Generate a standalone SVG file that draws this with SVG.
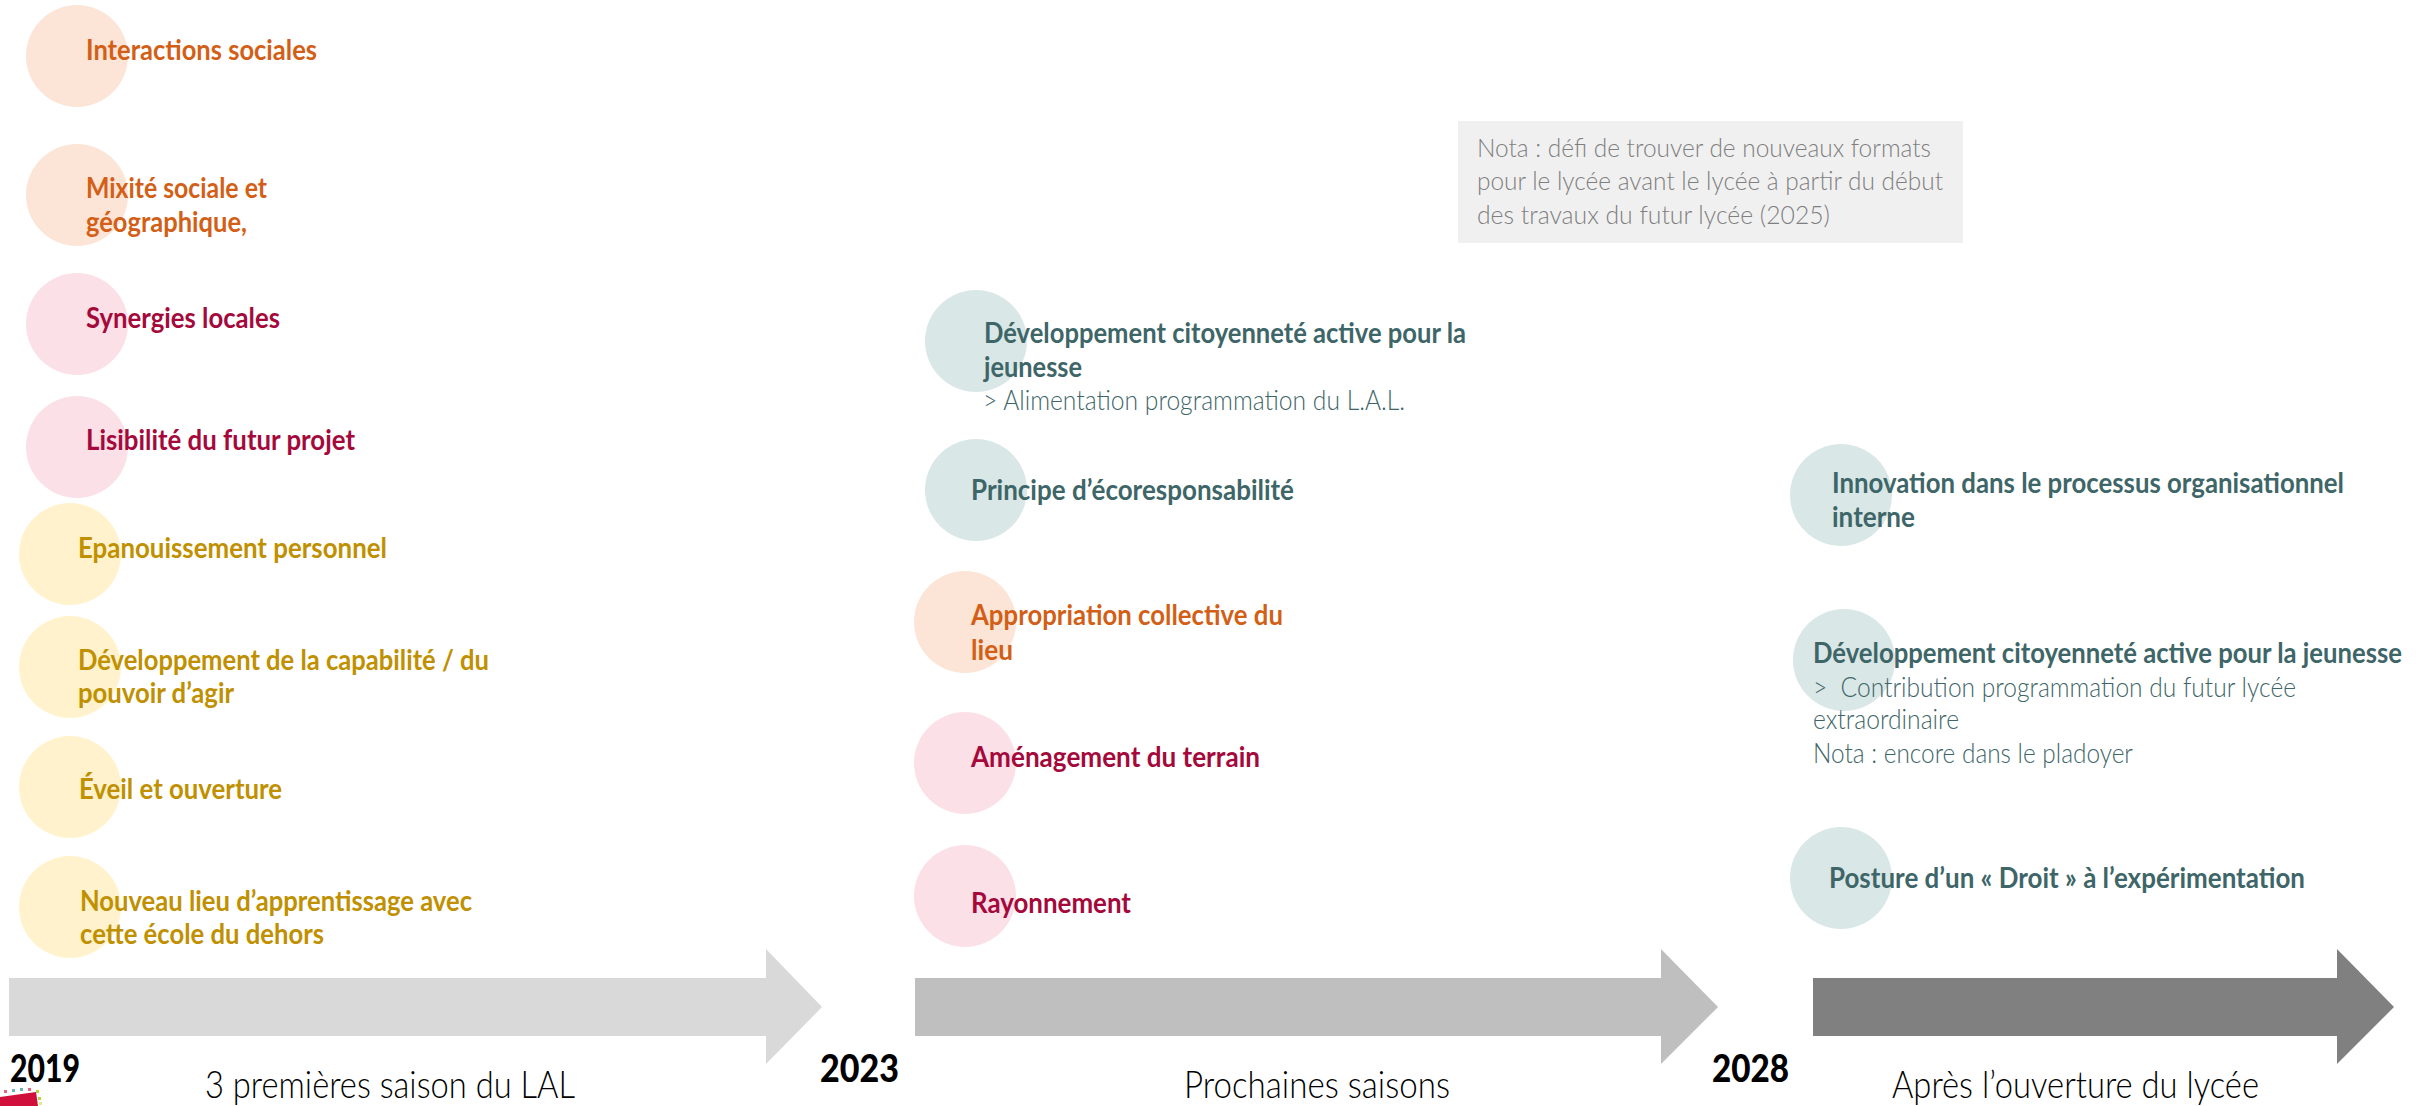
<svg xmlns="http://www.w3.org/2000/svg" width="2417" height="1106" viewBox="0 0 2417 1106">
<style>
text{font-family:Lato,"Open Sans","Liberation Sans",sans-serif;}
.b{font-weight:700;font-size:28px;}
.l{font-weight:300;font-size:27px;}
.or{fill:#D35F17}.orc{fill:#FCE4D6}
.cr{fill:#A5093C}.crc{fill:#FCE0E8}
.go{fill:#C09000}.goc{fill:#FFF2CC}
.te{fill:#3E6668}.tec{fill:#DAE7E7}
.yr{font-weight:900;font-size:37px;fill:#000}
.lab{font-weight:300;font-size:38px;fill:#000}
.nota{font-weight:300;font-size:25px;fill:#7F7F7F}
</style>
<rect width="2417" height="1106" fill="#fff"/>

<g id="connectors">
<polygon points="9,978 766,978 766,949 822,1007 766,1064 766,1036 9,1036" fill="#D9D9D9"/>
<polygon points="915,978 1661,978 1661,949 1718,1007 1661,1064 1661,1036 915,1036" fill="#BFBFBF"/>
<polygon points="1813,978 2337,978 2337,949 2394,1007 2337,1064 2337,1036 1813,1036" fill="#808080"/>
</g>

<g id="labels">
<text class="yr" x="10" y="1082" textLength="70" lengthAdjust="spacingAndGlyphs">2019</text>
<text class="yr" x="820" y="1082" textLength="79" lengthAdjust="spacingAndGlyphs">2023</text>
<text class="yr" x="1712" y="1082" textLength="77" lengthAdjust="spacingAndGlyphs">2028</text>
<text class="lab" x="205" y="1098" textLength="370" lengthAdjust="spacingAndGlyphs">3 premières saison du LAL</text>
<text class="lab" x="1184" y="1098" textLength="266" lengthAdjust="spacingAndGlyphs">Prochaines saisons</text>
<text class="lab" x="1892" y="1098" textLength="367" lengthAdjust="spacingAndGlyphs">Après l’ouverture du lycée</text>
</g>

<g id="logo">
<polygon points="0,1097 36,1092 38,1106 0,1106" fill="#D0103A"/>
<rect x="4" y="1090" width="3" height="3" fill="#E8637E"/>
<rect x="12" y="1089" width="3" height="3" fill="#6FB3B8"/>
<rect x="20" y="1088" width="3" height="3" fill="#6FB3B8"/>
<rect x="28" y="1088" width="3" height="3" fill="#E8637E"/>
<rect x="36" y="1090" width="3" height="3" fill="#B6D33C"/>
<rect x="38" y="1097" width="3" height="3" fill="#B6D33C"/>
<rect x="39" y="1102" width="3" height="3" fill="#E4E98A"/>
</g>

<g id="nota-box">
<rect x="1458" y="121" width="505" height="122" fill="#F0F0F0"/>
<text class="nota" x="1477" y="157" textLength="454" lengthAdjust="spacingAndGlyphs">Nota : défi de trouver de nouveaux formats</text>
<text class="nota" x="1477" y="190" textLength="466" lengthAdjust="spacingAndGlyphs">pour le lycée avant le lycée à partir du début</text>
<text class="nota" x="1477" y="224" textLength="353" lengthAdjust="spacingAndGlyphs">des travaux du futur lycée (2025)</text>
</g>

<g id="n-interactions">
<circle class="orc" cx="77" cy="56" r="51"/>
<text class="b or" x="86" y="60" textLength="231" lengthAdjust="spacingAndGlyphs">Interactions sociales</text>
</g>
<g id="n-mixite">
<circle class="orc" cx="77" cy="195" r="51"/>
<text class="b or" x="86" y="198" textLength="181" lengthAdjust="spacingAndGlyphs">Mixité sociale et</text>
<text class="b or" x="86" y="232" textLength="161" lengthAdjust="spacingAndGlyphs">géographique,</text>
</g>
<g id="n-synergies">
<circle class="crc" cx="77" cy="324" r="51"/>
<text class="b cr" x="86" y="328" textLength="194" lengthAdjust="spacingAndGlyphs">Synergies locales</text>
</g>
<g id="n-lisibilite">
<circle class="crc" cx="77" cy="447" r="51"/>
<text class="b cr" x="86" y="450" textLength="269" lengthAdjust="spacingAndGlyphs">Lisibilité du futur projet</text>
</g>
<g id="n-epanouissement">
<circle class="goc" cx="70" cy="554" r="51"/>
<text class="b go" x="78" y="558" textLength="309" lengthAdjust="spacingAndGlyphs">Epanouissement personnel</text>
</g>
<g id="n-capabilite">
<circle class="goc" cx="70" cy="667" r="51"/>
<text class="b go" x="78" y="670" textLength="411" lengthAdjust="spacingAndGlyphs">Développement de la capabilité / du</text>
<text class="b go" x="78" y="703" textLength="156" lengthAdjust="spacingAndGlyphs">pouvoir d’agir</text>
</g>
<g id="n-eveil">
<circle class="goc" cx="70" cy="787" r="51"/>
<text class="b go" x="79" y="799" textLength="203" lengthAdjust="spacingAndGlyphs">Éveil et ouverture</text>
</g>
<g id="n-nouveau-lieu">
<circle class="goc" cx="70" cy="907" r="51"/>
<text class="b go" x="80" y="911" textLength="392" lengthAdjust="spacingAndGlyphs">Nouveau lieu d’apprentissage avec</text>
<text class="b go" x="80" y="944" textLength="244" lengthAdjust="spacingAndGlyphs">cette école du dehors</text>
</g>

<g id="n-citoyennete-1">
<circle class="tec" cx="976" cy="341" r="51"/>
<text class="b te" x="984" y="343" textLength="482" lengthAdjust="spacingAndGlyphs">Développement citoyenneté active pour la</text>
<text class="b te" x="984" y="377" textLength="98" lengthAdjust="spacingAndGlyphs">jeunesse</text>
<text class="l te" x="983" y="410" textLength="422" lengthAdjust="spacingAndGlyphs">&gt; Alimentation programmation du L.A.L.</text>
</g>
<g id="n-ecoresponsabilite">
<circle class="tec" cx="976" cy="490" r="51"/>
<text class="b te" x="971" y="500" textLength="323" lengthAdjust="spacingAndGlyphs">Principe d’écoresponsabilité</text>
</g>
<g id="n-appropriation">
<circle class="orc" cx="965" cy="622" r="51"/>
<text class="b or" x="971" y="625" textLength="312" lengthAdjust="spacingAndGlyphs">Appropriation collective du</text>
<text class="b or" x="971" y="660" textLength="42" lengthAdjust="spacingAndGlyphs">lieu</text>
</g>
<g id="n-amenagement">
<circle class="crc" cx="965" cy="763" r="51"/>
<text class="b cr" x="971" y="767" textLength="289" lengthAdjust="spacingAndGlyphs">Aménagement du terrain</text>
</g>
<g id="n-rayonnement">
<circle class="crc" cx="965" cy="896" r="51"/>
<text class="b cr" x="971" y="913" textLength="160" lengthAdjust="spacingAndGlyphs">Rayonnement</text>
</g>

<g id="n-innovation">
<circle class="tec" cx="1841" cy="495" r="51"/>
<text class="b te" x="1832" y="493" textLength="512" lengthAdjust="spacingAndGlyphs">Innovation dans le processus organisationnel</text>
<text class="b te" x="1832" y="527" textLength="83" lengthAdjust="spacingAndGlyphs">interne</text>
</g>
<g id="n-citoyennete-2">
<circle class="tec" cx="1844" cy="660" r="51"/>
<text class="b te" x="1813" y="663" textLength="589" lengthAdjust="spacingAndGlyphs">Développement citoyenneté active pour la jeunesse</text>
<text class="l te" x="1813" y="697" textLength="483" lengthAdjust="spacingAndGlyphs" xml:space="preserve">&gt;  Contribution programmation du futur lycée</text>
<text class="l te" x="1813" y="729" textLength="146" lengthAdjust="spacingAndGlyphs">extraordinaire</text>
<text class="l te" x="1813" y="763" textLength="320" lengthAdjust="spacingAndGlyphs">Nota : encore dans le pladoyer</text>
</g>
<g id="n-posture">
<circle class="tec" cx="1841" cy="878" r="51"/>
<text class="b te" x="1829" y="888" textLength="476" lengthAdjust="spacingAndGlyphs">Posture d’un « Droit » à l’expérimentation</text>
</g>
</svg>
